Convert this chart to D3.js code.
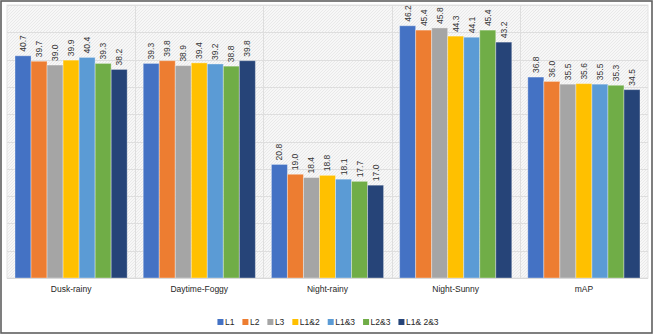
<!DOCTYPE html>
<html>
<head>
<meta charset="utf-8">
<script src="https://cdn.jsdelivr.net/npm/d3@7"></script>
<style>
  body { margin: 0; background: #fff; }
  svg { display: block; font-family: "Liberation Sans", Arial, sans-serif; }
</style>
</head>
<body>
<svg id="chart" width="654" height="335"></svg>
<script>
  const categories = ['Dusk-rainy', 'Daytime-Foggy', 'Night-rainy', 'Night-Sunny', 'mAP'];
  const seriesNames = ['L1', 'L2', 'L3', 'L1&2', 'L1&3', 'L2&3', 'L1& 2&3'];
  const seriesColors = ['#4472C4', '#ED7D31', '#A5A5A5', '#FFC000', '#5B9BD5', '#70AD47', '#264478'];
  const l1 = [40.7, 39.3, 20.8, 46.2, 36.8];
  const l2 = [39.7, 39.8, 19.0, 45.4, 36.0];
  const l3 = [39.0, 38.9, 18.4, 45.8, 35.5];
  const l12 = [39.9, 39.4, 18.8, 44.3, 35.6];
  const l13 = [40.4, 39.2, 18.1, 44.1, 35.5];
  const l23 = [39.3, 38.8, 17.7, 45.4, 35.3];
  const l123 = [38.2, 39.8, 17.0, 43.2, 34.5];
  const seriesValues = [l1, l2, l3, l12, l13, l23, l123];
  const yTicks = [0, 5, 10, 15, 20, 25, 30, 35, 40, 45, 50];

  const svg = d3.select('#chart');
  const plot = { left: 7, right: 648, top: 5, bottom: 278 };

  // outer frame
  svg.append('rect')
    .attr('x', 1).attr('y', 1).attr('width', 651).attr('height', 332)
    .attr('fill', '#fff').attr('stroke', '#5f5f5f').attr('stroke-width', 1.6);

  // hatched plot background
  const defs = svg.append('defs');
  const pat = defs.append('pattern')
    .attr('id', 'hatch').attr('patternUnits', 'userSpaceOnUse')
    .attr('width', 3).attr('height', 3);
  pat.append('rect').attr('width', 3).attr('height', 3).attr('fill', '#f7f7f7');
  pat.append('path').attr('d', 'M0,3 L3,0').attr('stroke', '#e6e6e6').attr('stroke-width', 0.8);

  svg.append('rect')
    .attr('x', plot.left).attr('y', plot.top)
    .attr('width', plot.right - plot.left).attr('height', plot.bottom - plot.top)
    .attr('fill', 'url(#hatch)').attr('stroke', '#e3e3e3');

  const y = d3.scaleLinear().domain([0, 50]).range([plot.bottom, plot.top]);
  const x0 = d3.scaleBand().domain(categories).range([plot.left, plot.right]).paddingInner(0).paddingOuter(0);
  const x1 = d3.scaleBand().domain(seriesNames).range([0, x0.bandwidth()]).paddingOuter(0.5).paddingInner(0);

  // gridlines
  svg.append('g').selectAll('line').data(yTicks).join('line')
    .attr('x1', plot.left).attr('x2', plot.right)
    .attr('y1', d => Math.round(y(d)) + 0.5).attr('y2', d => Math.round(y(d)) + 0.5)
    .attr('stroke', '#dedede');
  svg.append('g').selectAll('line').data(categories.slice(1)).join('line')
    .attr('x1', d => Math.round(x0(d)) + 0.5).attr('x2', d => Math.round(x0(d)) + 0.5)
    .attr('y1', plot.top).attr('y2', plot.bottom)
    .attr('stroke', '#dedede');

  // bars
  const groups = svg.append('g').selectAll('g').data(categories).join('g')
    .attr('transform', d => `translate(${x0(d)},0)`);

  groups.each(function(cat, ci) {
    const g = d3.select(this);
    seriesNames.forEach((s, si) => {
      const v = seriesValues[si][ci];
      g.append('rect')
        .attr('x', x1(s)).attr('y', y(v))
        .attr('width', x1.bandwidth()).attr('height', y(0) - y(v))
        .attr('fill', seriesColors[si])
        .attr('stroke', 'rgba(255,255,255,0.35)').attr('stroke-width', 1);
      const cx = x1(s) + x1.bandwidth() / 2;
      g.append('text')
        .attr('transform', `translate(${cx},${y(v) - 4}) rotate(-90)`)
        .attr('dy', '0.35em')
        .attr('font-size', '8.5px')
        .attr('fill', '#333')
        .text(v.toFixed(1));
    });
  });

  // x axis line
  svg.append('line')
    .attr('x1', plot.left).attr('x2', plot.right)
    .attr('y1', plot.bottom + 0.5).attr('y2', plot.bottom + 0.5)
    .attr('stroke', '#d9d9d9');

  // category labels
  svg.append('g').selectAll('text').data(categories).join('text')
    .attr('x', d => x0(d) + x0.bandwidth() / 2)
    .attr('y', 292)
    .attr('text-anchor', 'middle')
    .attr('font-size', '8.5px')
    .attr('fill', '#262626')
    .text(d => d);

  // legend
  const legend = svg.append('g');
  let lx = 0;
  seriesNames.forEach((s, i) => {
    const it = legend.append('g').attr('transform', `translate(${lx},0)`);
    it.append('rect').attr('x', 0).attr('y', -6).attr('width', 6).attr('height', 6).attr('fill', seriesColors[i]);
    const t = it.append('text').attr('x', 7.5).attr('y', 0).attr('font-size', '8.5px').attr('fill', '#262626').text(s);
    lx += 7.5 + t.node().getComputedTextLength() + 8;
  });
  const legendW = lx - 8;
  legend.attr('transform', `translate(${(654 - legendW) / 2 + 1},325)`);
</script>
</body>
</html>
